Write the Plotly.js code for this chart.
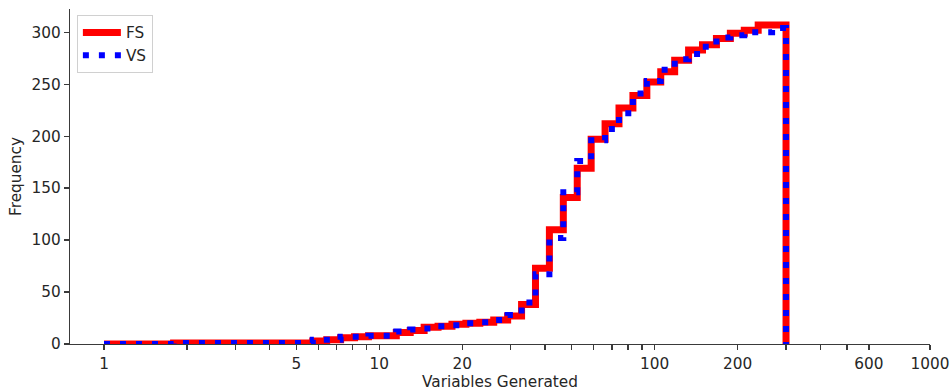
<!DOCTYPE html>
<html>
<head>
<meta charset="utf-8">
<script src="https://cdn.plot.ly/plotly-3.0.1.min.js"></script>
<style>
  html, body { margin: 0; padding: 0; background: #ffffff; }
  #chart { width: 951px; height: 391px; }
</style>
</head>
<body>
<div id="chart"></div>
<script>
// Log-spaced histogram bin edges (50 edges, 49 bins from 1 to 300)
var binEdges = [1, 1.12345, 1.26214, 1.41795, 1.59299, 1.78964, 2.01057, 2.25877, 2.53761, 2.85087,
  3.20280, 3.59818, 4.04237, 4.54138, 5.10201, 5.73183, 6.43941, 7.23433, 8.12738, 9.13068,
  10.2578, 11.5241, 12.9467, 14.5449, 16.3404, 18.3576, 20.6238, 23.1698, 26.0300, 29.2433,
  32.8533, 36.9089, 41.4652, 46.5839, 52.3346, 58.7952, 66.0534, 74.2076, 83.3682, 93.6596,
  105.222, 118.211, 132.804, 149.198, 167.616, 188.308, 211.554, 237.670, 267.010, 300];

// Cumulative counts per bin
var fsCounts = [0, 0, 0, 0, 0, 1, 1, 1, 1, 1, 1, 1, 1, 1, 1, 3, 4, 6, 7, 8, 8,
  11, 13, 16, 17, 19, 20, 21, 23, 27,
  38, 73, 110, 141, 169, 197, 212, 227, 239, 252, 262, 273, 283, 288, 294, 299, 302, 307, 307];
var vsCounts = [0, 0, 0, 0, 0, 1, 1, 1, 1, 1, 1, 1, 1, 1, 1, 4, 4, 7, 7, 8, 8,
  12, 14, 15, 17, 18, 20, 21, 23, 28,
  40, 67, 102, 146, 176, 196, 207, 222, 241, 253, 264, 274, 279, 286, 295, 297, 300, 300, 304];

var seriesNames = ["FS", "VS"];

var xTickVals = [1, 2, 3, 4, 5, 6, 7, 8, 9, 10, 20, 30, 40, 50, 60, 70, 80, 90, 100, 200, 300, 400, 500, 600, 1000];
var xTickText = ["1", "", "", "", "5", "", "", "", "", "10", "20", "", "", "", "", "", "", "", "100", "200", "", "", "", "600", "1000"];
var yTickVals = [0, 50, 100, 150, 200, 250, 300];

function stepTrace(counts) {
  var x = [binEdges[0]].concat(binEdges).concat([binEdges[binEdges.length - 1]]);
  var y = [0].concat(counts).concat([counts[counts.length - 1], 0]);
  return { x: x, y: y };
}

var fs = stepTrace(fsCounts);
var vs = stepTrace(vsCounts);

var FONT = "DejaVu Sans, Liberation Sans, sans-serif";
var FS_SIZE = 15.3;
var TXT = "#262626";
var AX = "#3a3a3a";

var traces = [
  { type: "scatter", mode: "lines", name: seriesNames[0], x: fs.x, y: fs.y,
    line: { shape: "hv", color: "#ff0000", width: 7 } },
  { type: "scatter", mode: "lines", name: seriesNames[1], x: vs.x, y: vs.y,
    line: { shape: "hv", color: "#0000ff", width: 6, dash: "6px,10px" } }
];

var ymax = Math.max.apply(null, fsCounts.concat(vsCounts)) * 1.05;

var layout = {
  width: 951, height: 391,
  margin: { l: 70, r: 21, t: 9, b: 47 },
  paper_bgcolor: "#ffffff", plot_bgcolor: "#ffffff",
  font: { family: FONT, size: FS_SIZE, color: TXT },
  showlegend: true,
  legend: {
    x: 0.008, y: 0.982, xanchor: "left", yanchor: "top",
    bgcolor: "rgba(255,255,255,0.8)", bordercolor: "#d0d0d0", borderwidth: 1,
    tracegroupgap: 0, itemwidth: 38,
    font: { family: FONT, size: FS_SIZE, color: TXT }
  },
  xaxis: {
    type: "log", range: [-0.1235, 3],
    tickmode: "array", tickvals: xTickVals, ticktext: xTickText,
    showline: true, linecolor: AX, linewidth: 1.25,
    ticks: "outside", ticklen: 5, tickwidth: 1.25, tickcolor: AX,
    showgrid: false, zeroline: false,
    tickfont: { family: FONT, size: FS_SIZE, color: TXT },
    title: { text: "Variables Generated", font: { family: FONT, size: FS_SIZE, color: TXT }, standoff: 7 }
  },
  yaxis: {
    range: [0, ymax],
    tickmode: "array", tickvals: yTickVals,
    showline: true, linecolor: AX, linewidth: 1.25,
    ticks: "outside", ticklen: 5, tickwidth: 1.25, tickcolor: AX,
    showgrid: false, zeroline: false,
    tickfont: { family: FONT, size: FS_SIZE, color: TXT },
    title: { text: "Frequency", font: { family: FONT, size: FS_SIZE, color: TXT }, standoff: 6 }
  },
  hovermode: false
};

Plotly.newPlot("chart", traces, layout, { staticPlot: true, displayModeBar: false });
</script>
</body>
</html>
